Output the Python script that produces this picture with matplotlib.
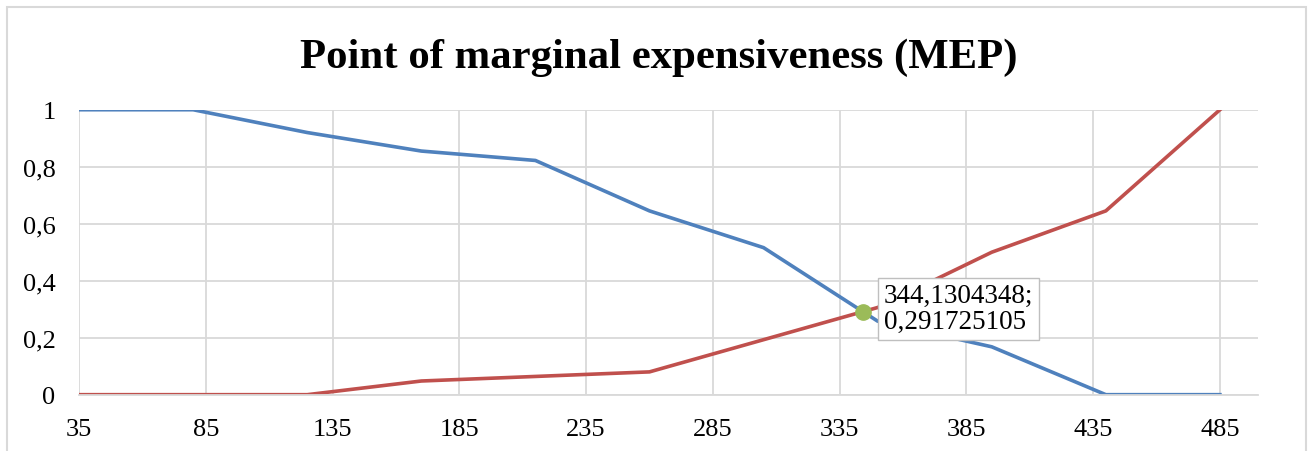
import numpy as np
import matplotlib.pyplot as plt
from matplotlib.ticker import FuncFormatter
from matplotlib.patches import Rectangle

# data
x_vals = [35, 80, 125, 170, 215, 260, 305, 350, 395, 440, 485]
blue_vals = [1.0, 1.0, 0.92, 0.855, 0.822, 0.645, 0.516, 0.258, 0.168, 0.0, 0.0]
red_vals = [0.0, 0.0, 0.0, 0.048, 0.064, 0.08, 0.193, 0.306, 0.5, 0.645, 1.0]
mep_x = 344.1304348
mep_y = 0.291725105
x_ticks = [35, 85, 135, 185, 235, 285, 335, 385, 435, 485]
y_ticks = [0, 0.2, 0.4, 0.6, 0.8, 1]

plt.rcParams['font.family'] = ['Liberation Serif', 'DejaVu Serif']

fig = plt.figure(figsize=(13.09, 4.52), dpi=100)
fig.patches.append(Rectangle((0.0052, -0.05), 0.9925, 1.032, transform=fig.transFigure,
                             fill=False, edgecolor='#D9D9D9', linewidth=1.5))
ax = fig.add_axes([0.0604, 0.1246, 0.9006, 0.6304])

ax.plot(x_vals, blue_vals, color='#4F81BD', linewidth=2.6, solid_joinstyle='round')
ax.plot(x_vals, red_vals, color='#C0504D', linewidth=2.6, solid_joinstyle='round')
ax.plot([mep_x], [mep_y], 'o', color='#9BBB59', markersize=11, zorder=5)

def fmt_num(v):
    s = ('%.15g' % v).replace('.', ',')
    return s

ax.annotate(fmt_num(mep_x) + ';\n' + fmt_num(mep_y), xy=(mep_x, mep_y),
            xytext=(15, 2), textcoords='offset points', ha='left', va='center',
            fontsize=19.5, linespacing=1.05,
            bbox=dict(boxstyle='square,pad=0.2', facecolor='white', edgecolor='#BFBFBF'))

ax.set_xlim(35, 500)
ax.set_ylim(0, 1)
ax.set_xticks(x_ticks)
ax.set_yticks(y_ticks)
ax.yaxis.set_major_formatter(FuncFormatter(lambda v, p: fmt_num(round(v, 2))))
ax.tick_params(length=0, labelsize=19)
ax.tick_params(axis='x', pad=17)
ax.tick_params(axis='y', pad=17)
ax.grid(True, color='#D9D9D9', linewidth=1.3)
ax.set_axisbelow(True)
for s in ['top', 'right', 'left']:
    ax.spines[s].set_visible(False)
ax.spines['bottom'].set_color('#D9D9D9')
ax.spines['bottom'].set_linewidth(1.3)

fig.text(0.503, 1 - 68 / 452, 'Point of marginal expensiveness (MEP)', ha='center', va='baseline',
         fontsize=30.8, fontweight='bold')

fig.savefig('out.png', dpi=100)
